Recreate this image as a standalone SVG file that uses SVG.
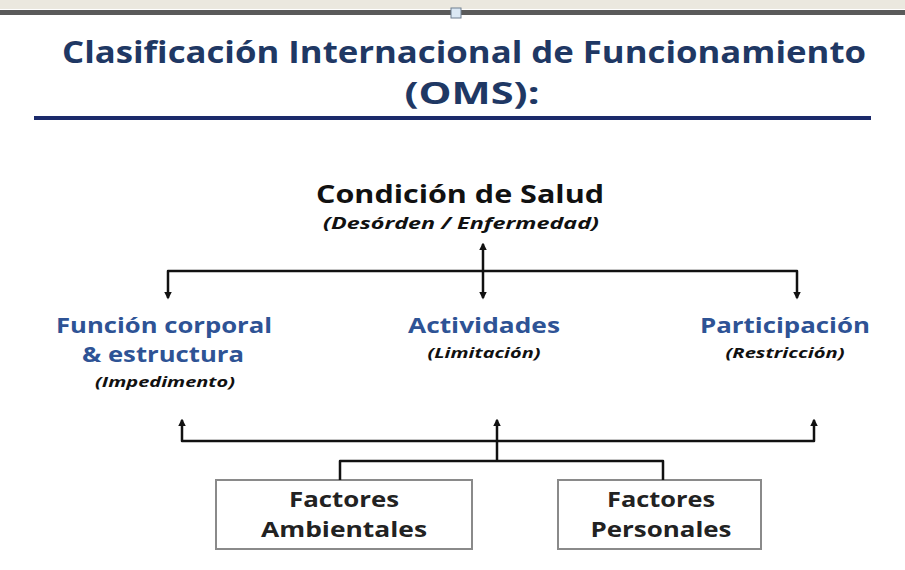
<svg xmlns="http://www.w3.org/2000/svg" width="905" height="570" viewBox="0 0 905 570">
  <style>
    .title { font-family: "Open Sans", "Liberation Sans", sans-serif; font-weight: 700; fill: #1f3864; }
    .head { font-family: "Open Sans", "Liberation Sans", sans-serif; font-weight: 700; fill: #111111; }
    .blue { font-family: "Open Sans", "Liberation Sans", sans-serif; font-weight: 700; fill: #2e5395; }
    .sub { font-family: "Open Sans", "Liberation Sans", sans-serif; font-weight: 700; font-style: italic; fill: #111111; }
    .box { fill: #ffffff; stroke: #8a8a8a; stroke-width: 2; }
    .boxtext { font-family: "Open Sans", "Liberation Sans", sans-serif; font-weight: 700; fill: #222222; }
    .conn { fill: none; stroke: #111111; stroke-width: 2.5; stroke-linejoin: round; stroke-linecap: butt; }
  </style>
  <defs>
    <marker id="arr" viewBox="0 0 10 10" refX="8" refY="5" markerWidth="3" markerHeight="3" orient="auto-start-reverse" markerUnits="strokeWidth">
      <path d="M0,0 L10,5 L0,10 z" fill="#111111"/>
    </marker>
  </defs>

  <rect x="0" y="0" width="905" height="570" fill="#ffffff"/>
  <!-- top toolbar band -->
  <rect x="0" y="0" width="905" height="9" fill="#ebe8df"/>
  <rect x="0" y="10" width="905" height="5" fill="#5a5a5a"/>
  <rect x="451" y="8" width="10" height="10" fill="#dbe8f4" stroke="#6f7f90" stroke-width="1"/>

  <g id="title">
    <text class="title" x="464" y="63" font-size="31" text-anchor="middle" textLength="804" lengthAdjust="spacingAndGlyphs">Clasificación Internacional de Funcionamiento</text>
    <text class="title" x="472" y="104" font-size="31" text-anchor="middle" textLength="135" lengthAdjust="spacingAndGlyphs">(OMS):</text>
    <rect x="34" y="116" width="837" height="4" fill="#1b2a6b"/>
  </g>

  <g id="condicion">
    <text class="head" x="460" y="203" font-size="25" text-anchor="middle" textLength="288" lengthAdjust="spacingAndGlyphs">Condición de Salud</text>
    <text class="sub" x="461" y="229" font-size="16.5" text-anchor="middle" textLength="276" lengthAdjust="spacingAndGlyphs">(Desórden / Enfermedad)</text>
  </g>

  <g id="funcion">
    <text class="blue" x="164" y="333" font-size="21" text-anchor="middle" textLength="216" lengthAdjust="spacingAndGlyphs">Función corporal</text>
    <text class="blue" x="163" y="362" font-size="21" text-anchor="middle" textLength="162" lengthAdjust="spacingAndGlyphs">&amp; estructura</text>
    <text class="sub" x="165" y="387" font-size="15" text-anchor="middle" textLength="140" lengthAdjust="spacingAndGlyphs">(Impedimento)</text>
  </g>

  <g id="actividades">
    <text class="blue" x="484" y="333" font-size="21" text-anchor="middle" textLength="152" lengthAdjust="spacingAndGlyphs">Actividades</text>
    <text class="sub" x="484" y="358" font-size="15" text-anchor="middle" textLength="113" lengthAdjust="spacingAndGlyphs">(Limitación)</text>
  </g>

  <g id="participacion">
    <text class="blue" x="785" y="333" font-size="21" text-anchor="middle" textLength="170" lengthAdjust="spacingAndGlyphs">Participación</text>
    <text class="sub" x="785" y="358" font-size="15" text-anchor="middle" textLength="119" lengthAdjust="spacingAndGlyphs">(Restricción)</text>
  </g>

  <g id="ambientales">
    <rect class="box" x="216" y="480" width="256" height="69"/>
    <text class="boxtext" x="344" y="507" font-size="22" text-anchor="middle" textLength="110" lengthAdjust="spacingAndGlyphs">Factores</text>
    <text class="boxtext" x="344" y="537" font-size="22" text-anchor="middle" textLength="166" lengthAdjust="spacingAndGlyphs">Ambientales</text>
  </g>

  <g id="personales">
    <rect class="box" x="558" y="480" width="203" height="69"/>
    <text class="boxtext" x="661" y="507" font-size="22" text-anchor="middle" textLength="108" lengthAdjust="spacingAndGlyphs">Factores</text>
    <text class="boxtext" x="661" y="537" font-size="22" text-anchor="middle" textLength="141" lengthAdjust="spacingAndGlyphs">Personales</text>
  </g>

  <g id="connectors">
    <!-- top distribution -->
    <line class="conn" x1="483" y1="298" x2="483" y2="244" marker-start="url(#arr)" marker-end="url(#arr)"/>
    <path class="conn" d="M168,298 L168,271 L797,271 L797,298" marker-start="url(#arr)" marker-end="url(#arr)"/>
    <!-- bottom collection -->
    <path class="conn" d="M182,420 L182,441 L814,441 L814,420" marker-start="url(#arr)" marker-end="url(#arr)"/>
    <line class="conn" x1="497" y1="461" x2="497" y2="420" marker-end="url(#arr)"/>
    <path class="conn" d="M340,480 L340,461 L663,461 L663,480"/>
  </g>
</svg>
